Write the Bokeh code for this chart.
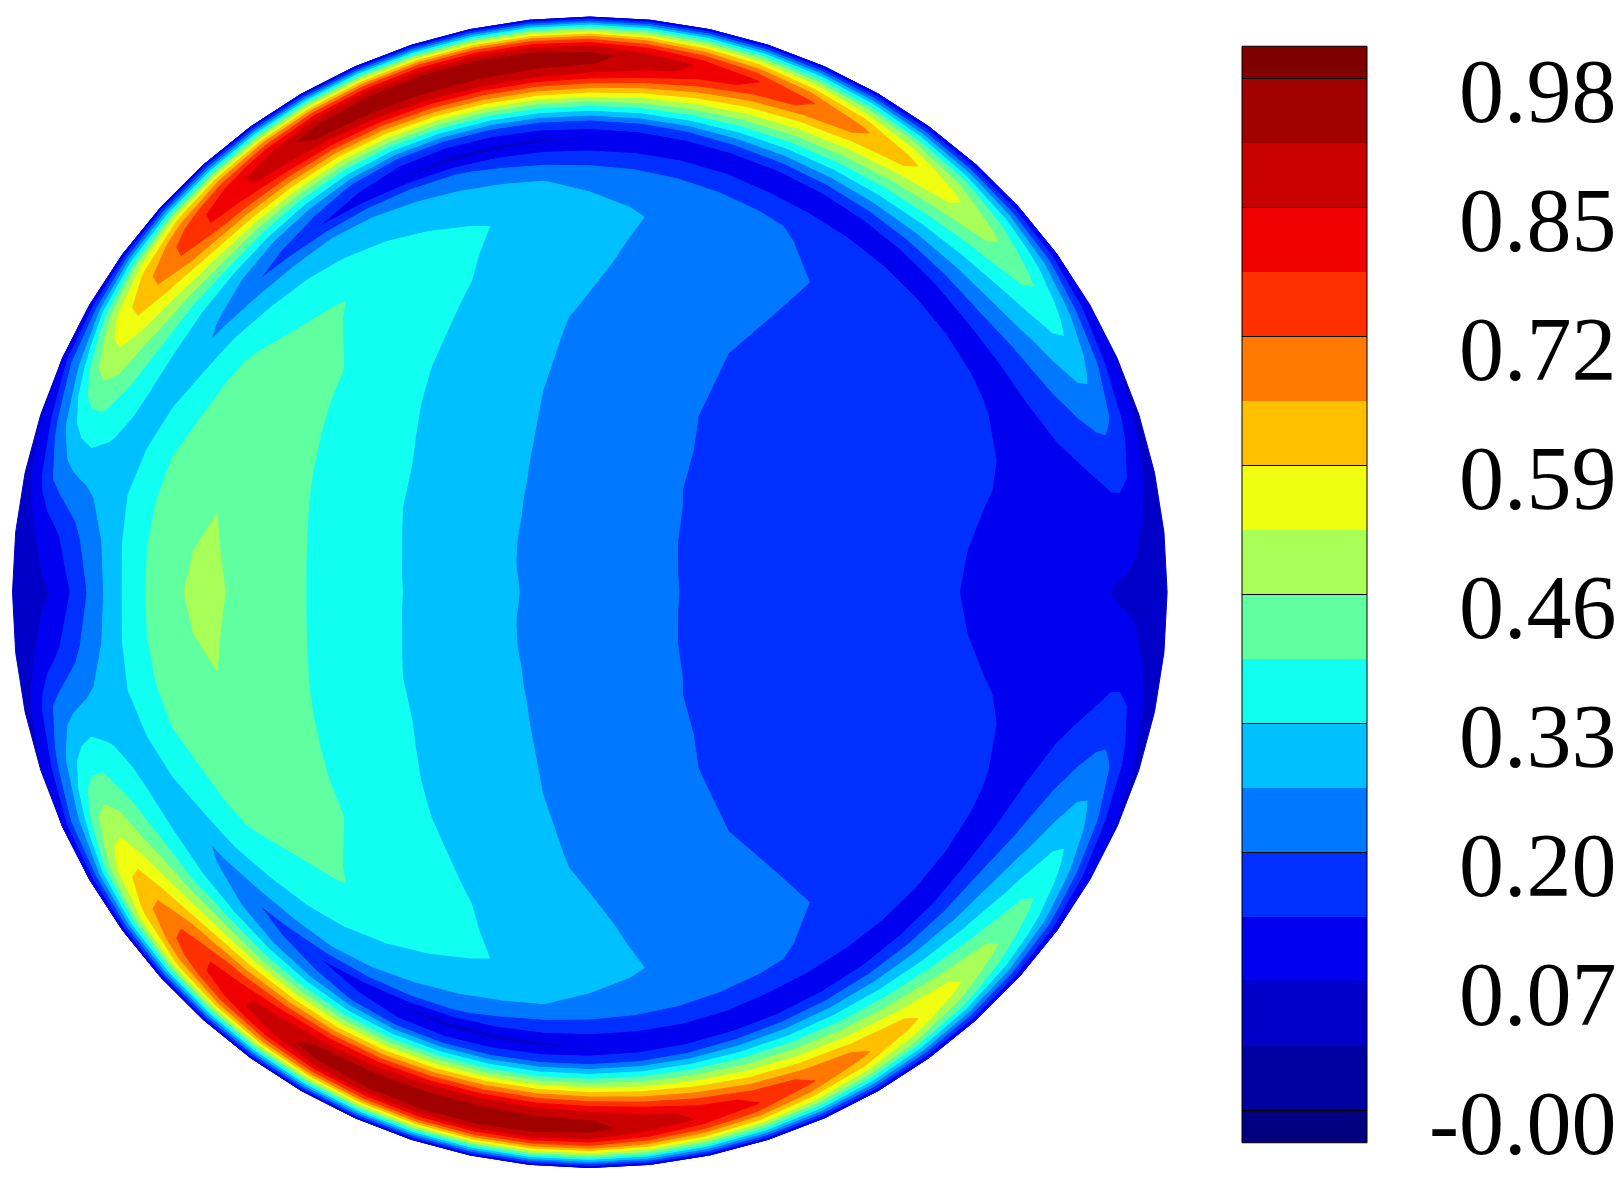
import numpy as np
from bokeh.plotting import figure
from bokeh.layouts import row
from bokeh.models import Range1d
from bokeh.core.properties import value
from bokeh.embed import file_html
from bokeh.resources import INLINE

# ---- data ----
band_colors = ["#000080", "#0000A0", "#0000C8", "#0000F0", "#0030FF", "#0078FF",
               "#00C0FF", "#10FFF0", "#60FFA0", "#A8FF58", "#F0FF10", "#FFC000",
               "#FF7800", "#FF3000", "#F00000", "#C80000", "#A00000", "#800000"]
tick_labels = ["-0.00", "0.07", "0.20", "0.33", "0.46", "0.59", "0.72", "0.85", "0.98"]
tick_levels = [1, 3, 5, 7, 9, 11, 13, 15, 17]

# Field in level units. One list per radius (fraction of the disk radius),
# each running over the upper half of the disk, 0 to 180 degrees in 6 degree steps.
angles = list(range(0, 181, 6))
radii = [0, .12, .24, .36, .48, .58, .66, .72, .76, .79, .82, .85, .875, .90, .92, .935, .95, .965, .98, 1.0]
r000 = [5.54] * 31
r012 = [5.08,5.08,5.08,5.09,5.10,5.12,5.15,5.19,5.24,5.29,5.34,5.38,5.42,5.46,5.5,5.54,5.58,5.61,5.64,5.67,5.7,5.73,5.77,5.8,5.83,5.87,5.9,5.93,5.96,5.98,5.99]
r024 = [4.8,4.8,4.81,4.82,4.84,4.86,4.9,4.95,5.0,5.07,5.17,5.28,5.38,5.46,5.53,5.62,5.7,5.78,5.86,5.96,6.06,6.15,6.25,6.33,6.4,6.46,6.5,6.53,6.55,6.56,6.57]
r036 = [4.56,4.57,4.6,4.65,4.7,4.74,4.78,4.82,4.87,4.94,5.02,5.13,5.25,5.38,5.52,5.68,5.82,5.97,6.13,6.28,6.42,6.55,6.68,6.8,6.9,6.97,7.02,7.08,7.13,7.16,7.18]
r048 = [4.32,4.38,4.45,4.5,4.55,4.6,4.65,4.7,4.77,4.87,5.0,5.15,5.32,5.5,5.68,5.86,6.05,6.28,6.5,6.7,6.88,7.03,7.17,7.32,7.48,7.62,7.74,7.83,7.9,7.93,7.94]
r058 = [4.12,4.22,4.3,4.37,4.43,4.5,4.57,4.65,4.74,4.9,5.13,5.3,5.48,5.7,5.92,6.18,6.45,6.68,6.9,7.12,7.32,7.5,7.75,8.03,8.15,8.26,8.32,8.36,8.38,8.42,8.45]
r066 = [3.96,3.99,4.08,4.22,4.3,4.38,4.45,4.55,4.72,4.97,5.2,5.42,5.62,5.83,6.1,6.3,6.62,6.88,7.1,7.32,7.55,7.85,8.08,8.25,8.42,8.6,8.75,8.88,9.0,9.15,9.3]
r072 = [3.72,3.82,3.95,4.08,4.15,4.2,4.25,4.32,4.45,4.68,4.93,5.12,5.28,5.45,5.62,5.8,5.98,6.17,6.4,6.6,6.8,6.98,7.3,7.6,7.92,8.15,8.35,8.55,8.72,8.85,8.88]
r076 = [3.56,3.66,3.82,3.92,3.98,4.03,4.05,4.05,4.04,4.02,4.0,4.02,4.14,4.22,4.28,4.33,4.5,4.75,5.15,5.5,5.8,6.0,6.2,6.5,6.9,7.3,7.65,8.0,8.15,8.2,8.2]
r079 = [3.44,3.5,3.6,3.62,3.58,3.5,3.42,3.38,3.35,3.3,3.25,3.2,3.17,3.12,3.02,2.95,2.82,2.75,2.72,2.9,3.35,3.95,4.55,5.15,5.78,6.35,7.0,7.3,7.55,7.6,7.6]
r082 = [3.33,3.4,3.5,3.65,3.9,4.15,4.53,4.66,4.79,4.92,5.04,5.12,5.15,5.05,4.95,4.85,4.75,4.6,4.45,4.45,4.9,5.5,6.0,6.3,6.5,6.55,6.6,6.75,6.95,6.85,6.7]
r085 = [3.2,3.3,3.5,4.0,4.55,5.03,5.6,5.98,6.38,6.76,7.1,7.45,7.8,8.1,8.3,8.4,8.4,8.4,8.3,8.1,8.1,8.3,8.4,8.45,8.0,7.7,7.2,6.8,6.4,6.0,5.75]
r0875 = [3.1,3.25,3.6,4.35,5.1,5.77,6.48,7.08,7.7,8.29,8.83,9.37,9.92,10.6,11.2,11.7,11.8,11.8,11.6,11.3,11.1,11.1,10.9,10.4,9.6,8.75,8.0,7.1,6.15,5.4,4.85]
r090 = [3.0,3.3,3.9,4.75,5.65,6.5,7.36,8.18,9.03,9.82,10.56,11.29,12.04,13.0,14.0,14.7,14.9,15.0,14.9,14.6,14.3,13.9,13.3,12.5,11.1,9.9,8.8,7.45,5.9,4.6,4.0]
r092 = [2.9,3.3,4.15,5.05,6.1,7.1,8.07,9.06,10.08,11.04,11.94,12.82,13.73,14.6,15.5,16.05,16.3,16.5,16.5,16.4,16.1,15.5,14.6,13.6,12.1,10.6,9.1,7.3,5.65,4.1,3.4]
r0935 = [2.85,3.25,4.2,5.15,6.2,7.25,8.2,9.2,10.25,11.25,12.2,13.1,14.05,14.9,15.6,16.3,16.7,16.85,16.85,16.7,16.4,15.6,14.6,13.5,12,10.5,8.8,6.9,5.4,3.65,3.0]
r095 = [2.8,3.1,4.0,4.9,5.7,6.7,7.6,8.4,9.4,10.3,11.1,11.9,12.8,13.5,14.2,15,15.3,15.4,15.4,15.3,15.1,14.4,13.6,12.6,11.2,9.8,7.8,6.15,5.0,3.3,2.85]
r0965 = [2.75,2.85,3.6,4.2,4.9,5.7,6.7,7.5,8.2,8.8,9.4,10,10.7,11.2,11.8,12.4,12.6,12.7,12.7,12.6,12.4,12,11.5,10.8,9.7,8.3,6.2,5.3,4.3,3,2.7]
r098 = [2.7,2.7,2.95,3.3,3.7,4.4,5.3,5.8,6.2,6.6,7,7.4,7.8,8.1,8.4,8.7,8.8,8.8,8.8,8.8,8.7,8.4,8.1,7.8,7.1,6,5.2,4,3.3,2.7,2.55]
r100 = [2.6,2.5,2.6,2.7,2.8,2.9,3,3,3,3,3,3,3,3,3,3,3,3,3,3,3,3,3,3,3,3,3,2.8,2.6,2.45,2.3]

by_radius = [r000, r012, r024, r036, r048, r058, r066, r072, r076, r079, r082, r085,
             r0875, r090, r092, r0935, r095, r0965, r098, r100]

# ---- the field is mirror-symmetric about the horizontal axis ----
half = np.array(by_radius, dtype=float).T
field = np.vstack([half, half[-2::-1]])
theta = np.radians(np.array(angles + [360 - a for a in angles[-2::-1]], dtype=float))
rad = np.array(radii)
X = np.outer(np.cos(theta), rad)
Y = np.outer(np.sin(theta), rad)
levels = list(range(len(band_colors) + 1))

# ---- page geometry in pixels ----
FIG_H = 1185
DISK_W = 1228
BAR_W = 392
CX, CY, RX, RY = 589.3, 591.8, 577.3, 575.2

disk = figure(width=DISK_W, height=FIG_H, output_backend="svg", toolbar_location=None,
              x_range=Range1d(-CX / RX, (DISK_W - CX) / RX),
              y_range=Range1d((CY - FIG_H) / RY, CY / RY),
              min_border=0, outline_line_color=None)
disk.axis.visible = False
disk.grid.visible = False
cr = disk.contour(X, Y, field, levels, fill_color=band_colors, line_color=None)
g = cr.fill_renderer.glyph
g.line_color = g.fill_color
g.line_alpha = 1
g.line_width = 1

# ---- colour bar ----
LINE_TOP_Y, LINE_BOT_Y = 78, 1110     # page y of levels 17 and 1
PX_PER_LEVEL = (LINE_BOT_Y - LINE_TOP_Y) / 16
bar = figure(width=BAR_W, height=FIG_H, output_backend="svg", toolbar_location=None,
             x_range=Range1d(DISK_W, DISK_W + BAR_W),
             y_range=Range1d(1 - (FIG_H - LINE_BOT_Y) / PX_PER_LEVEL,
                             17 + LINE_TOP_Y / PX_PER_LEVEL),
             min_border=0, outline_line_color=None)
bar.axis.visible = False
bar.grid.visible = False
BAR_L, BAR_R = 1241.5, 1366.5
n = len(band_colors)
bottoms = [max(k, 0.5) for k in range(n)]
tops = [min(k + 1, n - 0.5) for k in range(n)]
bar.quad(left=BAR_L, right=BAR_R, bottom=bottoms, top=tops, fill_color=band_colors, line_color=None)
bar.segment(x0=BAR_L, x1=BAR_R, y0=tick_levels, y1=tick_levels, line_color="black", line_width=1)
bar.quad(left=BAR_L, right=BAR_R, bottom=0.5, top=n - 0.5, fill_color=None, line_color="black", line_width=1)
bar.text(x=1616, y=tick_levels, text=tick_labels, text_align="right", text_baseline="middle",
         text_font=value("Liberation Serif"), text_font_size="90px", text_color="black", y_offset=13)

page = row(disk, bar)
open("out.html", "w").write(file_html(page, INLINE))
